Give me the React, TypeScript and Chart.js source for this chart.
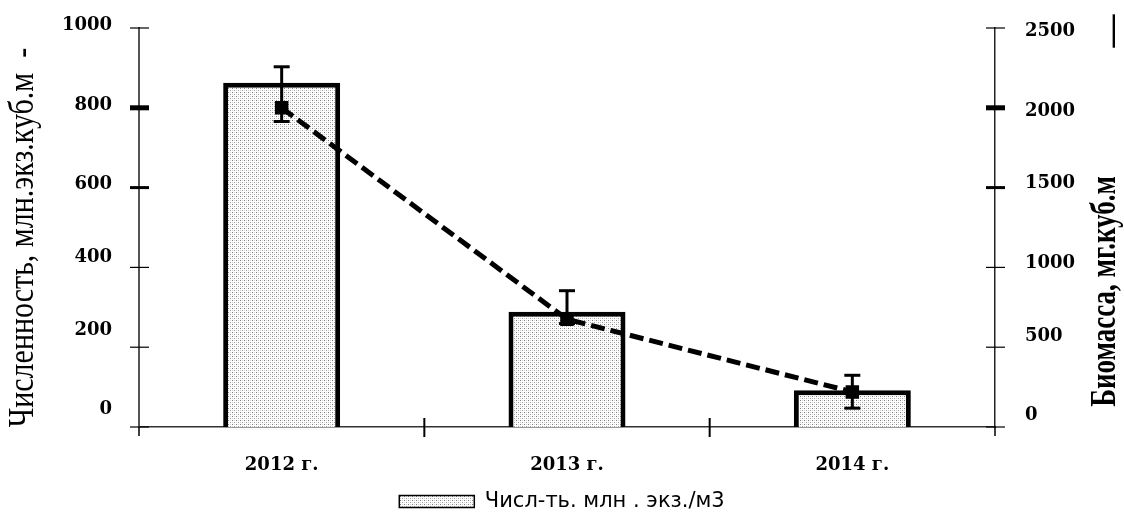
import React, { useEffect, useRef } from "react";
import { Chart, registerables } from "chart.js";

Chart.register(...registerables);

const categories = ["2012 г.", "2013 г.", "2014 г."];
const abundance = [863, 289, 92];
const biomass = [2000, 675, 220];
const biomassErrLow = [1914, 648, 118];
const biomassErrHigh = [2257, 854, 324];
const leftTitle = "Численность, млн.экз.куб.м  -";
const rightTitle = "Биомасса, мг.куб.м";
const legendLabel = "Числ-ть. млн . экз./м3";

function makePattern(): CanvasPattern | string {
  const c = document.createElement("canvas");
  c.width = 4;
  c.height = 4;
  const g = c.getContext("2d");
  if (!g) return "#ddd";
  g.fillStyle = "#ffffff";
  g.fillRect(0, 0, 4, 4);
  g.fillStyle = "#7a7a7a";
  g.fillRect(0, 0, 1, 1);
  g.fillStyle = "#a0a0a0";
  g.fillRect(2, 2, 1, 1);
  g.fillStyle = "#d4d4d4";
  g.fillRect(2, 0, 1, 1);
  g.fillRect(0, 2, 1, 1);
  return g.createPattern(c, "repeat") || "#ddd";
}

function line(ctx: CanvasRenderingContext2D, x1: number, y1: number, x2: number, y2: number) {
  ctx.beginPath();
  ctx.moveTo(x1, y1);
  ctx.lineTo(x2, y2);
  ctx.stroke();
}

function rotText(ctx: CanvasRenderingContext2D, text: string, font: string, cx: number, cy: number, sx: number) {
  ctx.save();
  ctx.translate(cx, cy);
  ctx.scale(sx, 1);
  ctx.rotate(-Math.PI / 2);
  ctx.font = font;
  ctx.fillStyle = "#000";
  ctx.textAlign = "center";
  ctx.textBaseline = "middle";
  ctx.fillText(text, 0, 0);
  ctx.restore();
}

const errorBars = {
  id: "errorBars",
  afterDatasetsDraw(chart: any) {
    const { ctx } = chart;
    const x = chart.scales.x;
    const y1 = chart.scales.y1;
    ctx.save();
    ctx.strokeStyle = "#000";
    ctx.lineWidth = 3;
    categories.forEach((_, i) => {
      const px = x.getPixelForValue(i);
      const top = y1.getPixelForValue(biomassErrHigh[i]);
      const bot = y1.getPixelForValue(biomassErrLow[i]);
      line(ctx, px, top, px, bot);
      line(ctx, px - 8, top, px + 8, top);
      line(ctx, px - 8, bot, px + 8, bot);
    });
    ctx.restore();
  },
};

const axisDecor = {
  id: "axisDecor",
  afterDraw(chart: any) {
    const { ctx, chartArea } = chart;
    const { left, right, bottom } = chartArea;
    const y = chart.scales.y;
    const y1 = chart.scales.y1;
    const x = chart.scales.x;
    ctx.save();
    ctx.strokeStyle = "#000";
    y.ticks.forEach((t: any) => {
      const py = y.getPixelForValue(t.value);
      ctx.lineWidth = t.value === 800 ? 5 : t.value === 600 ? 3 : 1.2;
      line(ctx, left - 9, py, left + 10, py);
    });
    y1.ticks.forEach((t: any) => {
      const py = y1.getPixelForValue(t.value);
      ctx.lineWidth = t.value === 2000 ? 5 : t.value === 1500 ? 3 : 1.2;
      line(ctx, right - 9, py, right + 10, py);
    });
    ctx.lineWidth = 2;
    for (let i = 1; i < categories.length; i++) {
      const px = (x.getPixelForValue(i - 1) + x.getPixelForValue(i)) / 2;
      line(ctx, px, bottom - 9, px, bottom + 10);
    }
    ctx.lineWidth = 1.5;
    line(ctx, left, bottom, left, bottom + 9);
    line(ctx, right, bottom, right, bottom + 9);
    ctx.restore();
    const midY = (chartArea.top + chartArea.bottom) / 2;
    rotText(ctx, leftTitle, "30px 'Liberation Serif'", left - 115, midY + 10, 1.2);
    rotText(ctx, rightTitle, "bold 27px 'Liberation Serif'", right + 111, midY + 64, 1.35);
    rotText(ctx, "—", "bold 33px 'Liberation Serif'", right + 118, 31, 1);
  },
};

export default function App() {
  const ref = useRef<HTMLCanvasElement | null>(null);
  useEffect(() => {
    if (!ref.current) return;
    const pattern = makePattern();
    const tickFont = { family: "'DejaVu Serif'", size: 18, weight: "bold" as const };
    const yFont = { family: "'DejaVu Serif'", size: 18, weight: "bold" as const, lineHeight: 0.8 };
    const leftLabel = (v: any) =>
      v >= 600 ? ["", String(v)] : v <= 200 ? [String(v), ""] : String(v);
    const rightLabel = (v: any) =>
      v >= 2000 ? ["", String(v)] : v <= 500 ? [String(v), ""] : String(v);
    const chart = new Chart(ref.current, {
      type: "bar",
      data: {
        labels: categories,
        datasets: [
          {
            type: "line" as const,
            label: "Биомасса",
            data: biomass,
            yAxisID: "y1",
            borderColor: "#000",
            backgroundColor: "#000",
            borderWidth: 5,
            borderDash: [14, 6],
            pointStyle: "rect",
            pointRadius: 6,
            pointBackgroundColor: "#000",
            pointBorderColor: "#000",
            tension: 0,
            order: 0,
          },
          {
            type: "bar" as const,
            label: legendLabel,
            data: abundance,
            yAxisID: "y",
            backgroundColor: pattern as any,
            borderColor: "#000",
            borderWidth: 5,
            barPercentage: 0.41,
            categoryPercentage: 1,
            order: 1,
          },
        ],
      },
      options: {
        animation: false,
        responsive: true,
        maintainAspectRatio: false,
        layout: { padding: { top: 28, left: 0, right: 0, bottom: -4 } },
        plugins: {
          tooltip: { enabled: false },
          legend: {
            position: "bottom",
            labels: {
              boxWidth: 75,
              boxHeight: 12,
              padding: 10,
              color: "#000",
              font: { family: "'DejaVu Sans'", size: 21 },
              filter: (item: any) => item.datasetIndex === 1,
              generateLabels: (ch: any) =>
                Chart.defaults.plugins.legend.labels
                  .generateLabels(ch)
                  .map((l: any) => ({ ...l, lineWidth: 1.5 })),
            },
          },
        },
        scales: {
          x: {
            type: "category",
            offset: true,
            grid: { display: false, drawTicks: false },
            border: { display: true, color: "#333", width: 1.5 },
            ticks: { color: "#000", font: tickFont, padding: 28 },
            afterFit: (s: any) => {
              s.height = 54;
              s.paddingLeft = 0;
              s.paddingRight = 0;
            },
          },
          y: {
            position: "left",
            min: 0,
            max: 1000,
            grid: { display: false, drawTicks: false },
            border: { display: true, color: "#555", width: 2 },
            ticks: { stepSize: 200, color: "#000", font: yFont, padding: 27, labelOffset: -10, callback: leftLabel },
            afterFit: (s: any) => {
              s.width = 139;
              s.paddingTop = 0;
              s.paddingBottom = 0;
            },
          },
          y1: {
            position: "right",
            min: 0,
            max: 2500,
            grid: { display: false, drawTicks: false },
            border: { display: true, color: "#222", width: 1.5 },
            ticks: { stepSize: 500, color: "#000", font: yFont, padding: 30, labelOffset: -4, callback: rightLabel },
            afterFit: (s: any) => {
              s.width = 129;
              s.paddingTop = 0;
              s.paddingBottom = 0;
            },
          },
        },
      },
      plugins: [errorBars, axisDecor],
    });
    return () => chart.destroy();
  }, []);
  return (
    <div style={{ position: "fixed", left: 0, top: 0, width: 1124, height: 518, background: "#fff" }}>
      <canvas ref={ref} />
    </div>
  );
}
